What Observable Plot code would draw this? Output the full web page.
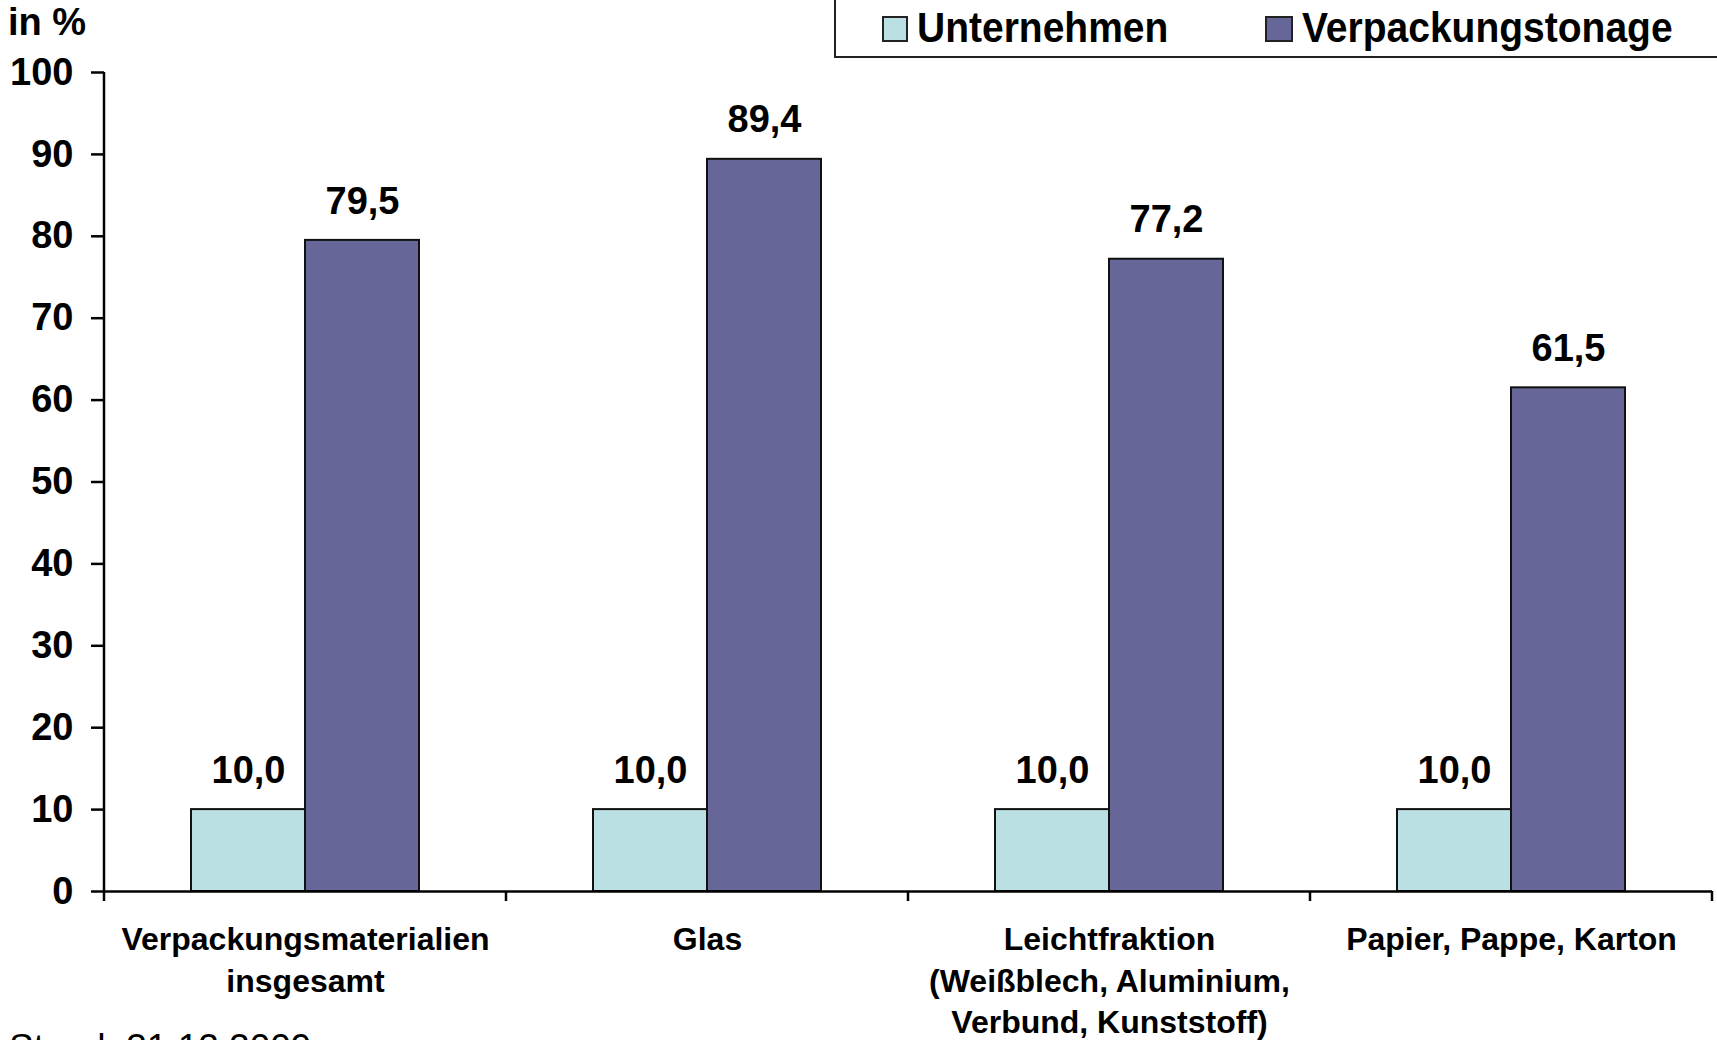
<!DOCTYPE html>
<html>
<head>
<meta charset="utf-8">
<script src="https://cdn.jsdelivr.net/npm/d3@7"></script>
<script src="https://cdn.jsdelivr.net/npm/@observablehq/plot@0.6"></script>
<style>
  html, body { margin: 0; padding: 0; background: white; }
  #wrap { position: relative; width: 1717px; height: 1040px; overflow: hidden; background: white;
          font-family: "Liberation Sans", Arial, sans-serif; color: #000; }
  #chart { position: absolute; left: 0; top: 0; }
  .abs { position: absolute; white-space: nowrap; }
  #unit { left: 8px; top: 3px; font-size: 38px; line-height: 38px; font-weight: bold; }
  #legend { left: 834px; top: -4px; width: 900px; height: 62px; box-sizing: border-box;
            border: 2px solid #222; background: white; }
  .sw { box-sizing: border-box; border: 2px solid #222; width: 26px; height: 26px; top: 16px; }
  .lt { font-size: 39px; line-height: 40px; font-weight: bold; top: 9px;
        transform: scaleY(1.08); transform-origin: 0 32px; }
  #stand { left: 9px; top: 1029px; font-size: 37px; line-height: 37px; }
</style>
</head>
<body>
<div id="wrap">
  <div id="chart"></div>
  <div class="abs" id="unit">in %</div>
  <div class="abs" id="legend"></div>
  <div class="abs sw" id="sw0" style="left:882px"></div>
  <div class="abs lt" id="lt0" style="left:917px"></div>
  <div class="abs sw" id="sw1" style="left:1265px;width:28px"></div>
  <div class="abs lt" id="lt1" style="left:1302px"></div>
  <div class="abs" id="stand">Stand: 31.12.2009</div>
</div>
<script>
// ---- data ----
const categories = [
  "Verpackungsmaterialien\ninsgesamt",
  "Glas",
  "Leichtfraktion\n(Weißblech, Aluminium,\nVerbund, Kunststoff)",
  "Papier, Pappe, Karton"
];
const series = ["Unternehmen", "Verpackungstonage"];
const unternehmen = [10.0, 10.0, 10.0, 10.0];
const verpackungstonage = [79.5, 89.4, 77.2, 61.5];
const yTicks = [0, 10, 20, 30, 40, 50, 60, 70, 80, 90, 100];
const seriesColors = ["#BBE0E3", "#666699"];

// ---- table ----
const values = [unternehmen, verpackungstonage];
const rows = categories.flatMap((c, i) =>
  series.map((s, j) => ({category: c, series: s, value: values[j][i]}))
);
const fmt = v => v.toFixed(1).replace(".", ",");

// legend
series.forEach((s, j) => {
  document.getElementById("sw" + j).style.background = seriesColors[j];
  document.getElementById("lt" + j).textContent = s;
});

const font = "'Liberation Sans', Arial, sans-serif";
const plot = Plot.plot({
  width: 1717,
  height: 1040,
  marginLeft: 102,
  marginRight: 4,
  marginTop: 72,
  marginBottom: 149,
  style: {fontFamily: font, background: "white", color: "black", overflow: "visible"},
  fx: {domain: categories, padding: 0, axis: null},
  x: {domain: series, paddingInner: 0, paddingOuter: 0.75, axis: null},
  y: {domain: [0, 100], axis: null},
  color: {domain: series, range: seriesColors},
  marks: [
    Plot.barY(rows, {fx: "category", x: "series", y: "value", fill: "series", stroke: "#111", strokeWidth: 2}),
    Plot.text(rows, {fx: "category", x: "series", y: "value", text: d => fmt(d.value),
      fontSize: 38, fontWeight: "bold", fill: "black", dy: -39}),
    Plot.ruleY([0], {stroke: "black", strokeWidth: 2.5}),
    Plot.axisY({anchor: "left", ticks: yTicks, tickSize: 13, tickPadding: 18, strokeWidth: 2.5,
      fontSize: 38, fontWeight: "bold", label: null, fill: "black"}),
    Plot.axisFx({anchor: "bottom", tickSize: 0, tickPadding: 29, fontSize: 32, fontWeight: "bold",
      lineHeight: 1.3, label: null, fill: "black"})
  ]
});
document.getElementById("chart").appendChild(plot);

// y-axis line and category boundary ticks, positioned from Plot's scales
const fxS = plot.scale("fx");
const yS = plot.scale("y");
const y0 = yS.apply(0), yTop = yS.apply(100);
const edges = categories.map(c => fxS.apply(c));
edges.push(fxS.apply(categories[categories.length - 1]) + fxS.bandwidth);
const g = d3.select(plot).append("g").attr("stroke", "black").attr("stroke-width", 2.5);
g.append("line").attr("x1", edges[0]).attr("x2", edges[0]).attr("y1", yTop).attr("y2", y0 + 10);
edges.slice(1).forEach(x => {
  g.append("line").attr("x1", x).attr("x2", x).attr("y1", y0).attr("y2", y0 + 10);
});
</script>
</body>
</html>
